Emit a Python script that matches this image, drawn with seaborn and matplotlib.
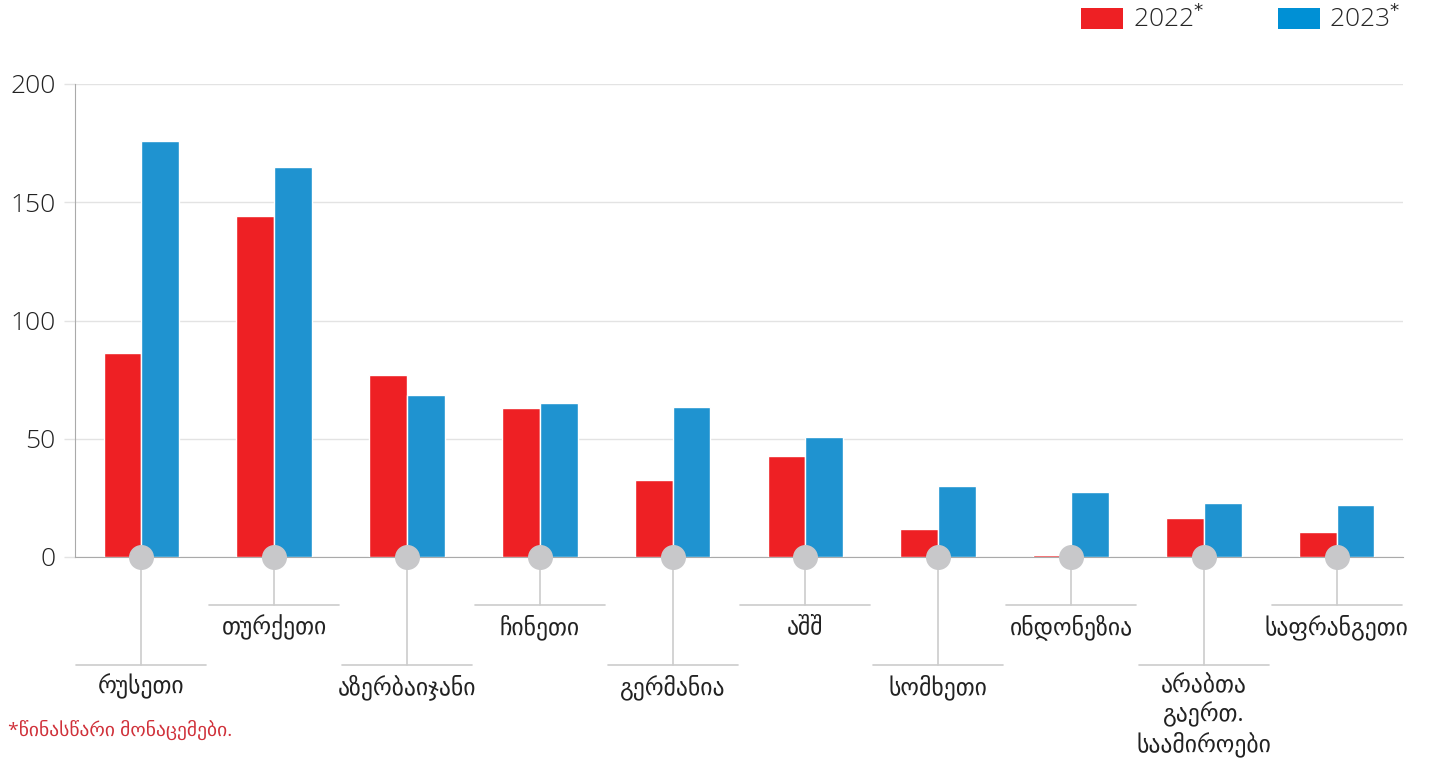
import pandas as pd
import seaborn as sns
import matplotlib.pyplot as plt
from matplotlib.patches import Patch
from matplotlib.transforms import blended_transform_factory

countries = ['რუსეთი', 'თურქეთი', 'აზერბაიჯანი', 'ჩინეთი', 'გერმანია',
             'აშშ', 'სომხეთი', 'ინდონეზია', 'არაბთა\nგაერთ.\nსაამიროები', 'საფრანგეთი']
values_2022 = [86.3, 144.2, 77.0, 63.0, 32.6, 42.7, 11.8, 0.8, 16.5, 10.6]
values_2023 = [175.9, 164.9, 68.5, 65.1, 63.4, 50.7, 30.0, 27.5, 22.8, 22.0]
years = ['2022', '2023']
yticks = [0, 50, 100, 150, 200]

red = '#ee2024'
blue = '#1f93d0'
grey = '#c8c8ca'

df = pd.DataFrame({
    'country': countries * 2,
    'year': [years[0]] * len(countries) + [years[1]] * len(countries),
    'value': values_2022 + values_2023,
})

sns.set_style('white')
plt.rcParams['font.family'] = ['Open Sans', 'DejaVu Sans']

fig = plt.figure(figsize=(14.31, 7.58), dpi=100)
ax = fig.add_axes([75 / 1431, 1 - 557 / 758, 1328 / 1431, 473 / 758])

sns.barplot(data=df, x='country', y='value', hue='year', palette=[red, blue],
            width=0.57, saturation=1, legend=False, ax=ax, zorder=2)

ax.set_xlim(-0.5, len(countries) - 0.5)
ax.set_ylim(0, 200)
ax.set_yticks(yticks)
ax.set_yticklabels([str(v) for v in yticks], fontsize=19, color='#222222',
                   fontweight='light')
ax.set_xticks([])
ax.set_xlabel('')
ax.set_ylabel('')
ax.yaxis.grid(True, color='#e3e3e3', linewidth=1, zorder=0)
ax.tick_params(axis='y', length=8, color='#e3e3e3', width=1, pad=6, left=True)
for side in ['top', 'right']:
    ax.spines[side].set_visible(False)
ax.spines['left'].set_color('#aaaaaa')
ax.spines['bottom'].set_color('#aaaaaa')
ax.spines['left'].set_zorder(3)
ax.spines['bottom'].set_zorder(1.5)

# leader lines and labels under the axis
tr = blended_transform_factory(ax.transData, ax.transAxes)
for i, name in enumerate(countries):
    low = i % 2 == 0
    y_h = -0.228 if low else -0.1015
    y_t = -0.248 if low else -0.122
    ax.plot([i, i], [0, y_h], transform=tr, color='#cccccc', lw=1.2,
            clip_on=False, zorder=1)
    ax.plot([i - 0.49, i + 0.49], [y_h, y_h], transform=tr, color='#cccccc',
            lw=1.2, clip_on=False, zorder=1)
    ax.plot([i], [0], transform=tr, marker='o', markersize=17, color=grey,
            markeredgecolor=grey, clip_on=False, zorder=5)
    ax.text(i, y_t, name, transform=tr, ha='center', va='top', fontsize=17,
            color='#222222', linespacing=1.2)

# legend
handles = [Patch(facecolor=red, edgecolor='none'), Patch(facecolor='#0090d5', edgecolor='none')]
fig.legend(handles, ['2022$^{*}$', '2023$^{*}$'], loc='upper right',
           bbox_to_anchor=(1424 / 1431, 1.025), ncol=2, frameon=False,
           prop={'size': 19, 'weight': 'light'}, handlelength=1.6,
           handleheight=0.85, columnspacing=2.8, handletextpad=0.35)

fig.text(8 / 1431, 1 - 730 / 758, '*წინასწარი მონაცემები.', color='#d0313a',
         fontsize=14, va='center', ha='left')

fig.savefig('out.png', dpi=100)
